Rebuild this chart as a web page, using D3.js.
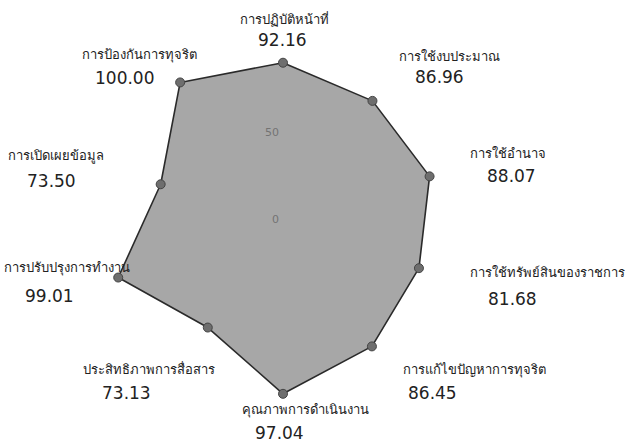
<!DOCTYPE html>
<html><head><meta charset="utf-8">
<script src="https://cdn.jsdelivr.net/npm/d3@7"></script>
<style>html,body{margin:0;padding:0;background:#fff;}svg{display:block;}</style>
</head><body>
<svg id="chart" width="635" height="444"></svg>
<script>
// ---- data ----
const categories = ["การปฏิบัติหน้าที่","การใช้งบประมาณ","การใช้อำนาจ","การใช้ทรัพย์สินของราชการ","การแก้ไขปัญหาการทุจริต","คุณภาพการดำเนินงาน","ประสิทธิภาพการสื่อสาร","การปรับปรุงการทำงาน","การเปิดเผยข้อมูล","การป้องกันการทุจริต"];
const values = [92.16, 86.96, 88.07, 81.68, 86.45, 97.04, 73.13, 99.01, 73.50, 100.00];
const tickValues = [0, 50];

// ---- layout (label anchors: name start x / baseline y, value offset) ----
const labelLayout = [
  {x:240, y:24}, {x:399, y:61}, {x:470, y:158}, {x:470, y:277}, {x:403, y:374},
  {x:242, y:414}, {x:83, y:374}, {x:4, y:272}, {x:8, y:160}, {x:82, y:59}
];
const valueLayout = [
  {x:258, y:46}, {x:415, y:83}, {x:487, y:182}, {x:488, y:305}, {x:408, y:399},
  {x:255, y:439}, {x:102, y:399}, {x:25, y:302}, {x:27, y:187}, {x:95, y:84}
];

const cx = 283, cy = 224, R = 175;
const svg = d3.select("#chart");
const r = d3.scaleLinear().domain([0, 100]).range([0, R]);
const angle = d3.scaleLinear().domain([0, categories.length]).range([0, 2 * Math.PI]);

const g = svg.append("g").attr("transform", `translate(${cx},${cy})`);

// labels (drawn beneath the area)
const lab = svg.append("g");
lab.selectAll("text.name").data(categories).join("text")
  .attr("class", "name")
  .attr("x", (d, i) => labelLayout[i].x)
  .attr("y", (d, i) => labelLayout[i].y)
  .attr("font-family", "Tahoma, 'Noto Sans', 'DejaVu Sans', sans-serif")
  .attr("font-size", 13)
  .attr("fill", "#222")
  .text(d => d);
lab.selectAll("text.val").data(values).join("text")
  .attr("class", "val")
  .attr("x", (d, i) => valueLayout[i].x)
  .attr("y", (d, i) => valueLayout[i].y)
  .attr("font-family", "'DejaVu Sans', Verdana, sans-serif")
  .attr("font-size", 17)
  .attr("fill", "#222")
  .text(d => d.toFixed(2));

// tick labels
g.selectAll("text.tick").data(tickValues).join("text")
  .attr("class", "tick")
  .attr("x", -4)
  .attr("y", d => -r(d) - 1)
  .attr("text-anchor", "end")
  .attr("font-family", "'DejaVu Sans', sans-serif")
  .attr("font-size", 11)
  .attr("fill", "#444")
  .text(d => d);

// area
const line = d3.lineRadial()
  .angle((d, i) => angle(i))
  .radius(d => r(d))
  .curve(d3.curveLinearClosed);
g.append("path")
  .datum(values)
  .attr("d", line)
  .attr("fill", "#858585")
  .attr("fill-opacity", 0.72)
  .attr("stroke", "#2a2a2a")
  .attr("stroke-width", 1.6)
  .attr("stroke-linejoin", "round");

// markers
g.selectAll("circle").data(values).join("circle")
  .attr("cx", (d, i) => r(d) * Math.sin(angle(i)))
  .attr("cy", (d, i) => -r(d) * Math.cos(angle(i)))
  .attr("r", 4.5)
  .attr("fill", "#6e6e6e")
  .attr("stroke", "#444")
  .attr("stroke-width", 1);
</script>
</body></html>
